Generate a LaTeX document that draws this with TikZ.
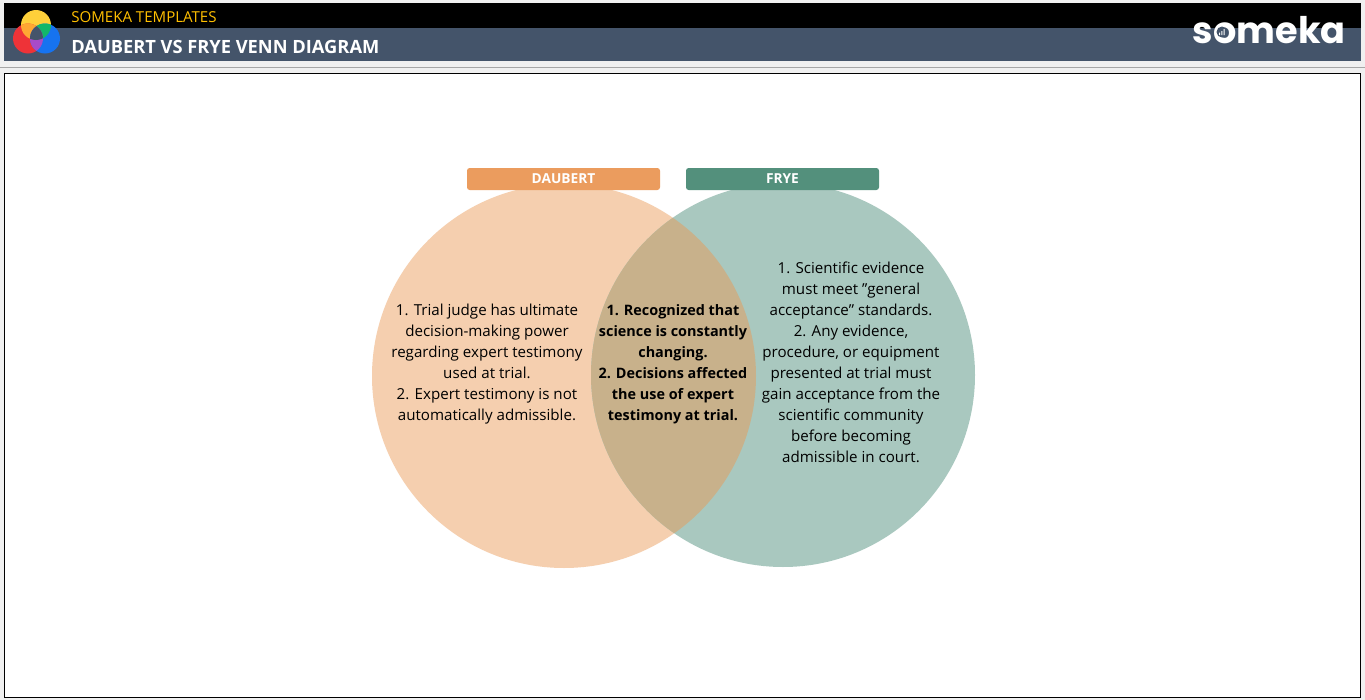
\documentclass[tikz,border=0pt]{standalone}
\usepackage{fontspec}
\setmainfont{Open Sans}
\newfontfamily\logofont{Poppins}
\definecolor{slate}{HTML}{44546A}
\definecolor{pagegray}{HTML}{F0F0F0}
\definecolor{titlegold}{HTML}{FFC000}
\definecolor{daubertdark}{HTML}{EB9C5E}
\definecolor{daubertlight}{HTML}{F5CFAF}
\definecolor{fryedark}{HTML}{53907C}
\definecolor{fryelight}{HTML}{A9C8BF}
\definecolor{bothfill}{HTML}{C8B18B}
\definecolor{logoyellow}{HTML}{FFD03A}
\definecolor{logored}{HTML}{EE3338}
\definecolor{logoblue}{HTML}{1673F0}
\definecolor{logoorange}{HTML}{FFA733}
\definecolor{logogreen}{HTML}{12B76A}
\definecolor{logopurple}{HTML}{A84BC8}
\tikzset{
  venntext/.style={align=center,font=\fontsize{11.35}{15.75}\selectfont,text=black,inner sep=0pt},
  tagbox/.style={fill=#1,rounded corners=2pt,minimum width=144.75pt,minimum height=16.5pt,inner sep=0pt,text=white,font=\fontsize{10.3}{12}\selectfont\bfseries}
}
\begin{document}
\begin{tikzpicture}[x=0.75pt,y=-0.75pt]
    \useasboundingbox (0,0) rectangle (1365,700);
    \fill[pagegray] (0,0) rectangle (1365,700);

    % header
    \fill[black] (4,3) rectangle (1361,28);
    \fill[slate] (4,28) rectangle (1361,61);
    \draw[black!35,line width=0.75pt] (0,67.5)--(1365,67.5);
    \draw[black,fill=white,line width=0.75pt] (4.5,73.5) rectangle (1360.5,697.5);

    % logo
    \fill[logoyellow] (36,25) circle(15);
    \fill[logored] (28,38.5) circle(15);
    \fill[logoblue] (45,38.5) circle(15);
    \begin{scope}
        \clip (36,25) circle(15);
        \fill[logoorange] (28,38.5) circle(15);
        \fill[logogreen] (45,38.5) circle(15);
    \end{scope}
    \begin{scope}
        \clip (28,38.5) circle(15);
        \fill[logopurple] (45,38.5) circle(15);
        \clip (45,38.5) circle(15);
        \fill[slate] (36,25) circle(15);
    \end{scope}

    \node[anchor=west,inner sep=0pt,text=titlegold,font=\fontsize{11.3}{12}\selectfont] (brand) at (71,17) {SOMEKA TEMPLATES};
    \node[anchor=west,inner sep=0pt,text=white,font=\fontsize{13.7}{15}\selectfont\bfseries] (title) at (71,46.5) {DAUBERT VS FRYE VENN DIAGRAM};
    \node[anchor=east,inner sep=0pt,text=white,font=\logofont\fontsize{27.5}{30}\selectfont\bfseries] (wordmark) at (1346,30) {someka};
    \fill[slate] (1222,32) circle(5.5);
    \fill[white] (1219,32.5) rectangle (1220,35) (1221.3,31) rectangle (1222.3,35) (1223.6,29) rectangle (1224.6,35);

    % venn
    \fill[daubertlight] (564,376) circle(192);
    \fill[fryelight] (783,375) circle(192);
    \begin{scope}
        \clip (564,376) circle(192);
        \fill[bothfill] (783,375) circle(192);
    \end{scope}

    \node[tagbox=daubertdark] (daubert) at (563.5,179) {\raisebox{-1.5pt}{DAUBERT}};
    \node[tagbox=fryedark] (frye) at (782.5,179) {\raisebox{-1.5pt}{FRYE}};

    \node[venntext] (left) at (487,364) {1. Trial judge has ultimate\\decision-making power\\regarding expert testimony\\used at trial.\\2. Expert testimony is not\\automatically admissible.};
    \node[venntext,font=\fontsize{10.8}{15.75}\selectfont\bfseries] (middle) at (673,364) {1. Recognized that\\science is constantly\\changing.\\2. Decisions affected\\the use of expert\\testimony at trial.};
    \node[venntext] (right) at (851,362.8) {1. Scientific evidence\\must meet \symbol{34}general\\acceptance\symbol{34} standards.\\2. Any evidence,\\procedure, or equipment\\presented at trial must\\gain acceptance from the\\scientific community\\before becoming\\admissible in court.};
\end{tikzpicture}
\end{document}
